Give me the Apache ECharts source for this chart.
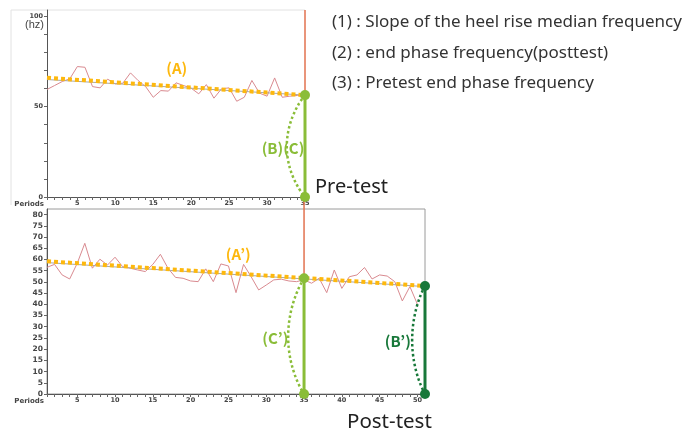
<!DOCTYPE html>
<html>
<head>
<meta charset="utf-8">
<script src="https://cdn.jsdelivr.net/npm/echarts@6/dist/echarts.min.js"></script>
<style>html,body{margin:0;padding:0;background:#fff;}#c{width:694px;height:434px;}</style>
</head>
<body>
<div id="c"></div>
<script>
// ---- data ----
const prePeriods = Array.from({length: 35}, (_, i) => i + 1);
const postPeriods = Array.from({length: 50}, (_, i) => i + 1);
const preTest = [59.5, 61.7, 63.9, 65.4, 72.2, 71.8, 61.1, 60.4, 65.2, 62.6,
  63.0, 68.7, 64.5, 61.1, 55.2, 58.9, 58.6, 63.2, 61.7, 60.2,
  57.1, 62.2, 54.7, 59.9, 60.4, 53.0, 55.2, 64.5, 57.5, 55.8,
  65.9, 55.2, 55.8, 56.2, 56.2];
const postTest = [56.5, 57.8, 53.1, 51.3, 58.3, 67.2, 56.1, 60.1, 57.5, 61.0,
  56.8, 56.1, 55.3, 54.6, 57.8, 62.3, 56.1, 52.0, 51.6, 50.4,
  50.1, 55.8, 50.1, 58.0, 57.1, 45.2, 57.8, 52.3, 46.4, 48.6,
  50.9, 51.2, 50.4, 50.1, 50.9, 49.4, 51.6, 45.2, 55.3, 47.1,
  52.3, 53.1, 56.4, 51.3, 53.1, 52.6, 50.1, 41.5, 47.9, 40.0];
const preRegression = [[1, 65.0], [35, 56.4]];
const preTrend = [[1, 66.0], [35, 56.4]];
const postRegression = [[1, 58.6], [51, 47.9]];
const postTrend = [[1, 59.2], [51, 48.2]];
const preEnd = [[35, 56.4], [35, 0]];
const preArc = [[35, 56.4], [32.6, 28], [35, 0]];
const postPreEnd = [[35, 51.6], [35, 0]];
const postPreArc = [[35, 51.6], [32.9, 25.5], [35, 0]];
const postEnd = [[51, 48.2], [51, 0]];
const postArc = [[51, 48.2], [49.3, 24], [51, 0]];
const cutTop = [[35, 103.5], [35, 0]];
const cutBottom = [[35, 88], [35, 51.6]];
const preYTicks = [0, 50, 100];
const preYMinor = [0, 10, 20, 30, 40, 50, 60, 70, 80, 90, 100];
const postYTicks = [0, 5, 10, 15, 20, 25, 30, 35, 40, 45, 50, 55, 60, 65, 70, 75, 80];
const preXTicks = [5, 10, 15, 20, 25, 30, 35];
const postXTicks = [5, 10, 15, 20, 25, 30, 35, 40, 45, 50];
const legendLines = ['(1) : Slope of the heel rise median frequency',
  '(2) : end phase frequency(posttest)',
  '(3) : Pretest end phase frequency'];
const preLabels = [{name: '(A)', value: [18.1, 71.1], c: 'orange'}, {name: '(B)(C)', value: [32.1, 27], c: 'light'}];
const postLabels = [{name: '(A\u2019)', value: [26.3, 62.5], c: 'orange'}, {name: '(C\u2019)', value: [31.2, 25], c: 'light'}, {name: '(B\u2019)', value: [47.4, 23.7], c: 'dark'}];

// ---- style ----
const ORANGE = '#FDB80E', LIGHT = '#8ABD38', DARK = '#18783A', RED = '#E2724F', PINK = '#D98A90', GRAYL = '#A8A8A8';
const colorOf = {orange: ORANGE, light: LIGHT, dark: DARK};
const lblFont = 'Noto Sans CJK KR';
const axFont = 'DejaVu Sans';

function xAxis(gi, max, ticks, n) {
  return {
    type: 'value', gridIndex: gi, min: 1, max: max,
    axisLine: {show: true, lineStyle: {color: '#555', width: 1}},
    axisTick: {show: true, length: 3, customValues: Array.from({length: n}, (_, i) => i + 1), lineStyle: {color: '#666'}},
    axisLabel: {customValues: ticks, fontSize: 6.5, color: '#444', fontWeight: 'bold', margin: 3, fontFamily: axFont},
    splitLine: {show: false},
    name: 'Periods', nameLocation: 'start', nameGap: 3,
    nameTextStyle: {fontSize: 7, color: '#444', fontWeight: 'bold', verticalAlign: 'top', padding: [4, 0, 0, 0], fontFamily: axFont}
  };
}
function yAxis(gi, max, labels, ticks, fs) {
  return {
    type: 'value', gridIndex: gi, min: 0, max: max,
    axisLine: {show: true, lineStyle: {color: '#555', width: 1}},
    axisTick: {show: true, length: 3, customValues: ticks, lineStyle: {color: '#666'}},
    axisLabel: {customValues: labels, fontSize: fs, color: '#444', fontWeight: 'bold', margin: 4, fontFamily: axFont},
    splitLine: {show: false}
  };
}
function line(gi, data, color, width, extra) {
  return Object.assign({
    type: 'line', xAxisIndex: gi, yAxisIndex: gi, data: data, symbol: 'none', silent: true,
    lineStyle: {color: color, width: width}, animation: false
  }, extra || {});
}
function endBar(gi, data, color, z) {
  return line(gi, data, color, 3, {symbol: 'circle', symbolSize: 10, itemStyle: {color: color}, z: z, clip: false});
}
function arc(gi, data, color) {
  return line(gi, data, color, 2.5, {smooth: 0.6, lineStyle: {color: color, width: 2.5, type: [2.5, 2.5]}, z: 4});
}
function labels(gi, items) {
  return {
    type: 'scatter', xAxisIndex: gi, yAxisIndex: gi, symbolSize: 0, silent: true, animation: false, z: 10,
    itemStyle: {opacity: 1},
    data: items.map(d => ({name: d.name, value: d.value, label: {color: colorOf[d.c]}})),
    label: {show: true, position: 'inside', formatter: p => p.name, fontSize: 15, fontWeight: 'bold', opacity: 1,
      fontFamily: lblFont, textBorderWidth: 0, textShadowBlur: 0}
  };
}

const chart = echarts.init(document.getElementById('c'), null, {renderer: 'canvas'});
chart.setOption({
  backgroundColor: '#fff',
  animation: false,
  grid: [
    {left: 47, top: 10, width: 258, height: 187, show: false},
    {left: 47, top: 209, width: 378, height: 185, show: true, borderColor: '#9a9a9a', borderWidth: 1, backgroundColor: 'transparent'}
  ],
  xAxis: [xAxis(0, 35, preXTicks, 35), xAxis(1, 51, postXTicks, 51)],
  yAxis: [yAxis(0, 103.5, preYTicks, preYMinor, 6.5), yAxis(1, 82.5, postYTicks, postYTicks, 7.5)],
  graphic: [
    {type: 'polyline', shape: {points: [[305, 10], [11, 10], [11, 205]]}, style: {stroke: '#e2e2e2', lineWidth: 1, fill: null}, silent: true},
    {type: 'text', left: 25, top: 19, style: {text: '(hz)', fontSize: 11, fill: '#444', fontFamily: 'Liberation Sans'}},
    {type: 'text', left: 315, top: 177, style: {text: 'Pre-test', fontSize: 20, fill: '#222', fontFamily: 'Noto Sans'}},
    {type: 'text', left: 347, top: 412, style: {text: 'Post-test', fontSize: 20.5, fill: '#222', fontFamily: 'Noto Sans'}},
    ...legendLines.map((t, i) => ({type: 'text', left: 332, top: 14 + i * 30.5, style: {text: t, fontSize: 17, fill: '#333', fontFamily: 'Noto Sans'}}))
  ],
  series: [
    line(0, prePeriods.map((p, i) => [p, preTest[i]]), PINK, 1, {z: 2}),
    line(0, preRegression, GRAYL, 1, {z: 2}),
    line(0, preTrend, ORANGE, 4, {lineStyle: {color: ORANGE, width: 4, type: [4, 3]}, z: 3}),
    line(0, cutTop, RED, 1.5, {z: 3, clip: false}),
    arc(0, preArc, LIGHT),
    endBar(0, preEnd, LIGHT, 5),
    labels(0, preLabels),
    line(1, postPeriods.map((p, i) => [p, postTest[i]]), PINK, 1, {z: 2}),
    line(1, postRegression, GRAYL, 1, {z: 2}),
    line(1, postTrend, ORANGE, 4, {lineStyle: {color: ORANGE, width: 4, type: [4, 3]}, z: 3}),
    line(1, cutBottom, RED, 1.5, {z: 3, clip: false}),
    arc(1, postPreArc, LIGHT),
    arc(1, postArc, DARK),
    endBar(1, postPreEnd, LIGHT, 5),
    endBar(1, postEnd, DARK, 5),
    labels(1, postLabels)
  ]
});
</script>
</body>
</html>
